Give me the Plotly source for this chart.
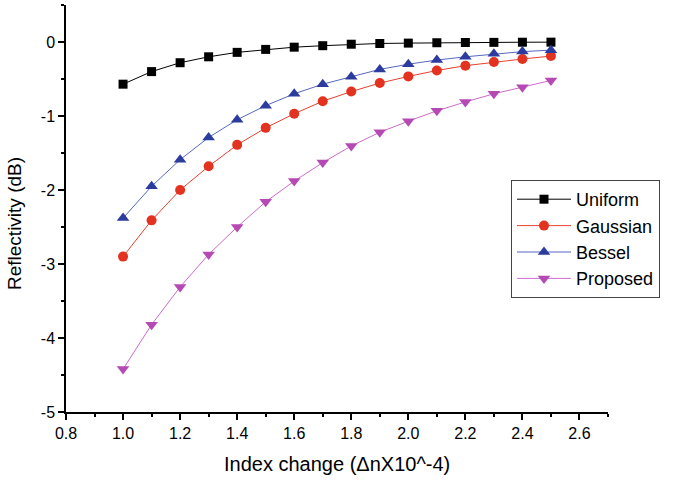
import plotly.graph_objects as go

x_vals = [1.0, 1.1, 1.2, 1.3, 1.4, 1.5, 1.6, 1.7, 1.8, 1.9, 2.0, 2.1, 2.2, 2.3, 2.4, 2.5]
uniform = [-0.57, -0.40, -0.28, -0.20, -0.14, -0.10, -0.07, -0.05, -0.03, -0.02, -0.015, -0.01, -0.007, -0.005, -0.003, -0.002]
gaussian = [-2.90, -2.41, -2.00, -1.68, -1.39, -1.16, -0.97, -0.80, -0.67, -0.555, -0.465, -0.385, -0.32, -0.27, -0.23, -0.19]
bessel = [-2.38, -1.95, -1.59, -1.29, -1.05, -0.86, -0.70, -0.57, -0.47, -0.37, -0.30, -0.244, -0.20, -0.16, -0.13, -0.11]
proposed = [-4.42, -3.82, -3.31, -2.87, -2.50, -2.16, -1.88, -1.63, -1.405, -1.22, -1.07, -0.93, -0.81, -0.70, -0.61, -0.52]

series_names = ["Uniform", "Gaussian", "Bessel", "Proposed"]
x_tick_vals = [0.8, 1.0, 1.2, 1.4, 1.6, 1.8, 2.0, 2.2, 2.4, 2.6]
y_tick_vals = [-5, -4, -3, -2, -1, 0]
y_tick_text = ["-5", "-4", "-3", "-2", "-1", "0"]

FONT = "Arial, Liberation Sans, sans-serif"

styles = [
    dict(line_color="#000000", marker_color="#000000", symbol="square", size=9),
    dict(line_color="#E8402E", marker_color="#E3321F", symbol="circle", size=10),
    dict(line_color="#5668C0", marker_color="#2B3C9E", symbol="triangle-up", size=11),
    dict(line_color="#CC6CCC", marker_color="#B64AB5", symbol="triangle-down", size=11),
]

fig = go.Figure()
for name, ys, st in zip(series_names, [uniform, gaussian, bessel, proposed], styles):
    fig.add_trace(go.Scatter(
        x=x_vals, y=ys, name=name, mode="lines+markers",
        line=dict(color=st["line_color"], width=1),
        marker=dict(symbol=st["symbol"], size=st["size"], color=st["marker_color"],
                    line=dict(width=0)),
    ))

fig.update_layout(
    width=674, height=480,
    margin=dict(l=66, r=66, t=5, b=68),
    paper_bgcolor="white", plot_bgcolor="white",
    font=dict(family=FONT, size=16, color="black"),
    showlegend=True,
    legend=dict(
        x=(511 - 66) / 542, y=(412 - 180) / 407, xanchor="left", yanchor="top",
        bordercolor="#444444", borderwidth=1, bgcolor="white",
        font=dict(family=FONT, size=18, color="black"),
        tracegroupgap=0, itemwidth=54,
    ),
    xaxis=dict(
        range=[0.8, 2.7], tickvals=x_tick_vals, tickformat=".1f",
        showline=True, linecolor="black", linewidth=1.5, showgrid=False, zeroline=False,
        ticks="outside", ticklen=6, tickwidth=1.5, tickcolor="black",
        minor=dict(ticks="outside", ticklen=3, dtick=0.1, tick0=0.8, tickcolor="black", tickwidth=1.5),
        tickfont=dict(size=16),
    ),
    yaxis=dict(
        range=[-5, 0.5], tickvals=y_tick_vals, ticktext=y_tick_text,
        showline=True, linecolor="black", linewidth=1.5, showgrid=False, zeroline=False,
        ticks="outside", ticklen=6, tickwidth=1.5, tickcolor="black",
        minor=dict(ticks="outside", ticklen=3, dtick=0.5, tick0=0, tickcolor="black", tickwidth=1.5),
        tickfont=dict(size=16),
    ),
    annotations=[
        dict(text="Index change (\u0394nX10^-4)", xref="paper", yref="paper",
             x=0.5, y=-(464 - 412) / 407, xanchor="center", yanchor="middle",
             showarrow=False, font=dict(family=FONT, size=20)),
        dict(text="Reflectivity (dB)", xref="paper", yref="paper",
             x=(15 - 66) / 542, y=(412 - 224) / 407, xanchor="center", yanchor="middle",
             textangle=-90, showarrow=False, font=dict(family=FONT, size=19)),
    ],
)

fig.write_html("out.html", config={"displayModeBar": False},
               post_script="document.body.style.margin='0';document.body.style.overflow='hidden';")
